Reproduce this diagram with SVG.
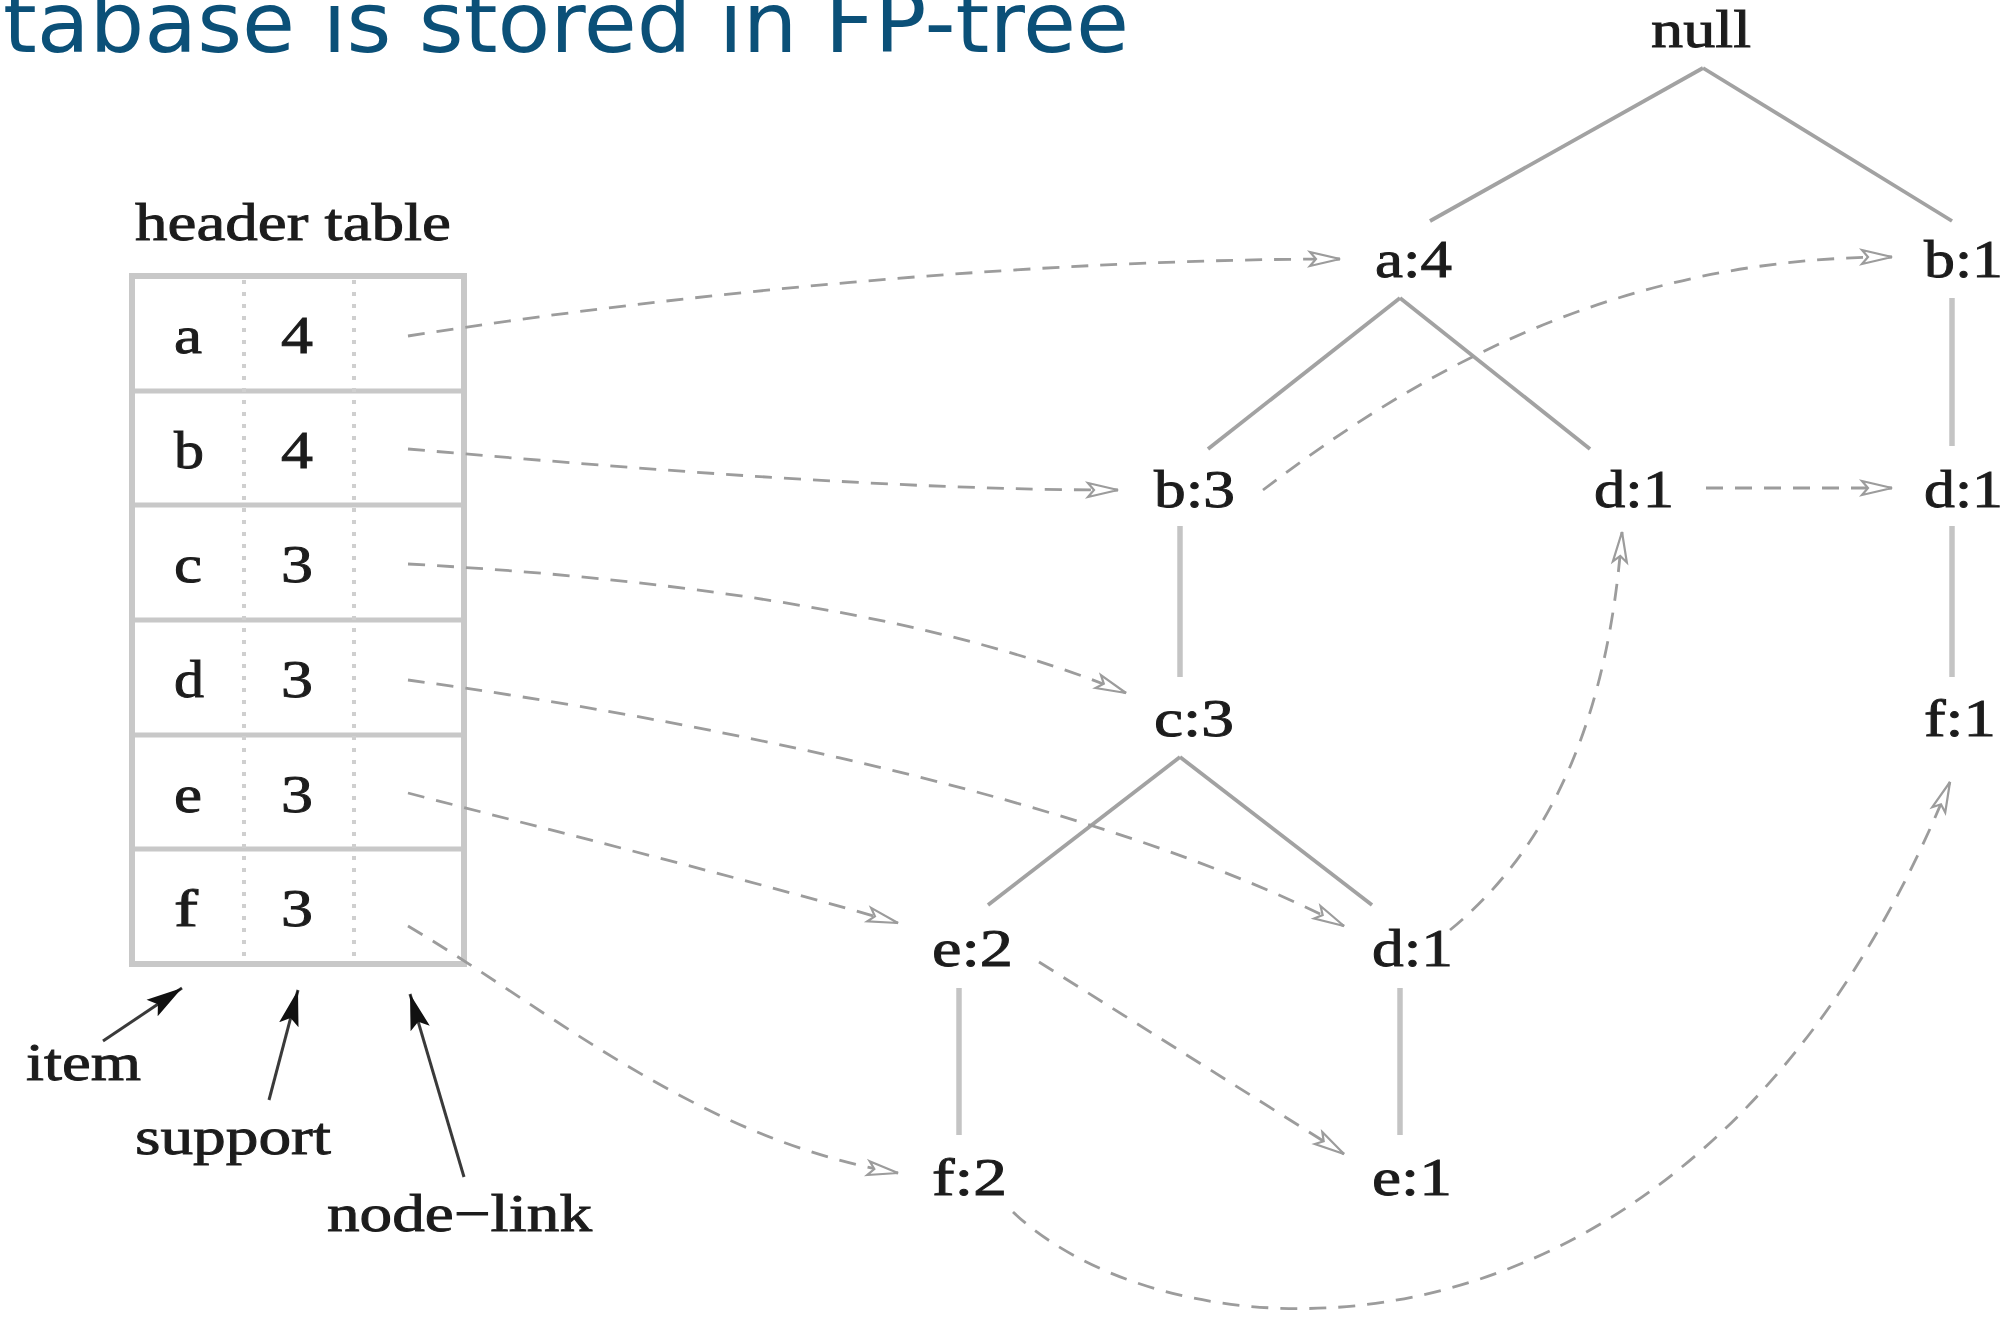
<svg xmlns="http://www.w3.org/2000/svg" width="2011" height="1320" viewBox="0 0 2011 1320">
<style>
.title{font-family:"DejaVu Sans",Verdana,sans-serif;font-size:84px;fill:#0b5078}
.lbl{font-family:"Liberation Serif","Times New Roman",serif;font-size:52px;fill:#1c1c1c;stroke:#1c1c1c;stroke-width:0.9}
.edge{stroke:#a2a2a2;stroke-width:3.8;fill:none}
.vedge{stroke:#c4c4c4;stroke-width:5.5;fill:none}
.link{stroke:#9c9c9c;stroke-width:2.8;fill:none;stroke-dasharray:17 12;marker-end:url(#open)}
.tbl{stroke:#c8c8c8;stroke-width:6;fill:none}
.sep{stroke:#c8c8c8;stroke-width:5}
.dot{stroke:#cfcfcf;stroke-width:4;stroke-dasharray:4 8}
.ptr{stroke:#3a3a3a;stroke-width:3;fill:none;marker-end:url(#solid)}
</style>
<defs>
<marker id="open" markerUnits="userSpaceOnUse" markerWidth="40" markerHeight="24" refX="34" refY="12" orient="auto">
<path d="M4,5 L34,12 L4,19 L10,12 Z" fill="#ffffff" stroke="#9c9c9c" stroke-width="2.2"/>
</marker>
<marker id="solid" markerUnits="userSpaceOnUse" markerWidth="40" markerHeight="26" refX="36" refY="13" orient="auto">
<path d="M0,3 L36,13 L0,23 L7,13 Z" fill="#111111"/>
</marker>
</defs>
<rect width="2011" height="1320" fill="#ffffff"/>
<text class="title" x="3" y="52" textLength="1126" lengthAdjust="spacingAndGlyphs">tabase is stored in FP-tree</text>

<g id="header-table">
<text class="lbl" x="135" y="240" textLength="316" lengthAdjust="spacingAndGlyphs">header table</text>
<rect class="tbl" x="132" y="276" width="332" height="688"/>
<line class="sep" x1="132" y1="391" x2="464" y2="391"/>
<line class="sep" x1="132" y1="505" x2="464" y2="505"/>
<line class="sep" x1="132" y1="620" x2="464" y2="620"/>
<line class="sep" x1="132" y1="735" x2="464" y2="735"/>
<line class="sep" x1="132" y1="849" x2="464" y2="849"/>
<line class="dot" x1="244" y1="280" x2="244" y2="960"/>
<line class="dot" x1="354" y1="280" x2="354" y2="960"/>
<text class="lbl" x="174" y="353" textLength="28" lengthAdjust="spacingAndGlyphs">a</text>
<text class="lbl" x="281" y="353" textLength="32" lengthAdjust="spacingAndGlyphs">4</text>
<text class="lbl" x="174" y="468" textLength="30" lengthAdjust="spacingAndGlyphs">b</text>
<text class="lbl" x="281" y="468" textLength="32" lengthAdjust="spacingAndGlyphs">4</text>
<text class="lbl" x="174" y="582" textLength="28" lengthAdjust="spacingAndGlyphs">c</text>
<text class="lbl" x="281" y="582" textLength="32" lengthAdjust="spacingAndGlyphs">3</text>
<text class="lbl" x="174" y="697" textLength="30" lengthAdjust="spacingAndGlyphs">d</text>
<text class="lbl" x="281" y="697" textLength="32" lengthAdjust="spacingAndGlyphs">3</text>
<text class="lbl" x="174" y="812" textLength="28" lengthAdjust="spacingAndGlyphs">e</text>
<text class="lbl" x="281" y="812" textLength="32" lengthAdjust="spacingAndGlyphs">3</text>
<text class="lbl" x="174" y="926" textLength="24" lengthAdjust="spacingAndGlyphs">f</text>
<text class="lbl" x="281" y="926" textLength="32" lengthAdjust="spacingAndGlyphs">3</text>
</g>

<g id="legend">
<text class="lbl" x="26" y="1080" textLength="115" lengthAdjust="spacingAndGlyphs">item</text>
<text class="lbl" x="135" y="1154" textLength="196" lengthAdjust="spacingAndGlyphs">support</text>
<text class="lbl" x="327" y="1231" textLength="265" lengthAdjust="spacingAndGlyphs">node−link</text>
</g>

<g id="n-null"><text class="lbl" x="1651" y="47" textLength="100" lengthAdjust="spacingAndGlyphs">null</text></g>
<g id="n-a4"><text class="lbl" x="1375" y="277" textLength="77" lengthAdjust="spacingAndGlyphs">a:4</text></g>
<g id="n-b1"><text class="lbl" x="1924" y="277" textLength="79" lengthAdjust="spacingAndGlyphs">b:1</text></g>
<g id="n-b3"><text class="lbl" x="1154" y="507" textLength="81" lengthAdjust="spacingAndGlyphs">b:3</text></g>
<g id="n-d1-mid"><text class="lbl" x="1594" y="507" textLength="80" lengthAdjust="spacingAndGlyphs">d:1</text></g>
<g id="n-d1-right"><text class="lbl" x="1924" y="507" textLength="79" lengthAdjust="spacingAndGlyphs">d:1</text></g>
<g id="n-c3"><text class="lbl" x="1154" y="736" textLength="80" lengthAdjust="spacingAndGlyphs">c:3</text></g>
<g id="n-f1"><text class="lbl" x="1924" y="736" textLength="72" lengthAdjust="spacingAndGlyphs">f:1</text></g>
<g id="n-e2"><text class="lbl" x="932" y="966" textLength="81" lengthAdjust="spacingAndGlyphs">e:2</text></g>
<g id="n-d1-low"><text class="lbl" x="1372" y="966" textLength="81" lengthAdjust="spacingAndGlyphs">d:1</text></g>
<g id="n-f2"><text class="lbl" x="932" y="1195" textLength="75" lengthAdjust="spacingAndGlyphs">f:2</text></g>
<g id="n-e1"><text class="lbl" x="1372" y="1195" textLength="80" lengthAdjust="spacingAndGlyphs">e:1</text></g>

<g id="connectors">
<line class="edge" x1="1703" y1="68" x2="1430" y2="221"/>
<line class="edge" x1="1703" y1="68" x2="1952" y2="221"/>
<line class="edge" x1="1400" y1="298" x2="1208" y2="449"/>
<line class="edge" x1="1400" y1="298" x2="1590" y2="449"/>
<line class="vedge" x1="1952" y1="298" x2="1952" y2="446"/>
<line class="vedge" x1="1180" y1="526" x2="1180" y2="677"/>
<line class="vedge" x1="1952" y1="526" x2="1952" y2="677"/>
<line class="edge" x1="1180" y1="757" x2="988" y2="905"/>
<line class="edge" x1="1180" y1="757" x2="1372" y2="905"/>
<line class="vedge" x1="959" y1="988" x2="959" y2="1135"/>
<line class="vedge" x1="1400" y1="988" x2="1400" y2="1135"/>

<path class="link" d="M408,336 C700,290 1050,259 1340,259"/>
<path class="link" d="M408,449 C650,470 900,490 1118,490"/>
<path class="link" d="M408,564 C700,580 950,620 1126,693"/>
<path class="link" d="M408,680 C700,720 1100,800 1344,926"/>
<path class="link" d="M408,793 C550,830 750,880 898,923"/>
<path class="link" d="M408,926 C550,1010 700,1140 898,1173"/>
<path class="link" d="M1263,490 C1420,370 1620,257 1892,257"/>
<path class="link" d="M1706,488 L1892,488"/>
<path class="link" d="M1450,930 C1560,840 1610,700 1622,532"/>
<path class="link" d="M1039,962 L1344,1154"/>
<path class="link" d="M1013,1212 C1180,1370 1700,1400 1950,782"/>

<line class="ptr" x1="103" y1="1041" x2="182" y2="988"/>
<line class="ptr" x1="269" y1="1100" x2="298" y2="990"/>
<line class="ptr" x1="464" y1="1177" x2="410" y2="994"/>
</g>
</svg>
